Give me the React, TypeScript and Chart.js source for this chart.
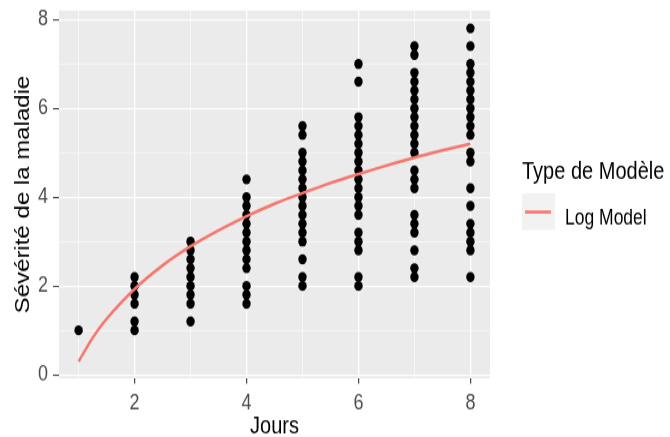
import React, { useEffect, useRef } from 'react';
import { Chart, registerables } from 'chart.js';

Chart.register(...registerables);

// ---- Data ----
const jours = [1, 2, 3, 4, 5, 6, 7, 8];
const severiteJour1 = [1.0];
const severiteJour2 = [2.2, 2.0, 1.8, 1.6, 1.2, 1.0];
const severiteJour3 = [3.0, 2.8, 2.6, 2.4, 2.2, 2.0, 1.8, 1.6, 1.2];
const severiteJour4 = [4.4, 4.0, 3.8, 3.6, 3.4, 3.2, 3.0, 2.8, 2.6, 2.4, 2.0, 1.8, 1.6];
const severiteJour5 = [5.6, 5.4, 5.0, 4.8, 4.6, 4.4, 4.2, 4.0, 3.8, 3.6, 3.4, 3.2, 3.0, 2.6, 2.2, 2.0];
const severiteJour6 = [7.0, 6.6, 5.8, 5.6, 5.4, 5.2, 5.0, 4.8, 4.6, 4.4, 4.2, 4.0, 3.8, 3.6, 3.2, 3.0, 2.8, 2.2, 2.0];
const severiteJour7 = [7.4, 7.2, 6.8, 6.6, 6.4, 6.2, 6.0, 5.8, 5.6, 5.4, 5.2, 5.0, 4.6, 4.4, 4.2, 3.6, 3.4, 3.2, 2.8, 2.4, 2.2];
const severiteJour8 = [7.8, 7.4, 7.0, 6.8, 6.6, 6.4, 6.2, 6.0, 5.8, 5.6, 5.4, 5.0, 4.8, 4.2, 3.8, 3.4, 3.2, 3.0, 2.8, 2.2];
const severiteParJour = [
  severiteJour1, severiteJour2, severiteJour3, severiteJour4,
  severiteJour5, severiteJour6, severiteJour7, severiteJour8,
];

// Log model curve
const modeleJours = [1, 1.25, 1.5, 2, 2.5, 3, 3.5, 4, 4.5, 5, 5.5, 6, 6.5, 7, 7.5, 8];
const modeleSeverite = [0.3, 0.83, 1.26, 1.93, 2.46, 2.89, 3.25, 3.57, 3.85, 4.09, 4.32, 4.52, 4.71, 4.89, 5.05, 5.2];

const xTicks = [1, 2, 3, 4, 5, 6, 7, 8];
const xTickLabels = [2, 4, 6, 8];
const yTicks = [0, 1, 2, 3, 4, 5, 6, 7, 8];
const yTickLabels = [0, 2, 4, 6, 8];

const xTitle = 'Jours';
const yTitle = 'Sévérité de la maladie';
const legendTitle = 'Type de Modèle';
const modelName = 'Log Model';

const FONT = '"Liberation Sans", Arial, sans-serif';
const MODEL_COLOR = '#F8766D';
const STRETCH = 437 / 364;

const panelPlugin = {
  id: 'panelBg',
  beforeDraw(chart: any) {
    const { ctx, chartArea } = chart;
    ctx.save();
    ctx.fillStyle = '#EBEBEB';
    ctx.fillRect(chartArea.left, chartArea.top, chartArea.right - chartArea.left, chartArea.bottom - chartArea.top);
    ctx.restore();
  },
};

const legendPlugin = {
  id: 'ggLegend',
  afterDraw(chart: any) {
    const ctx = chart.ctx;
    ctx.save();
    ctx.textAlign = 'left';
    ctx.textBaseline = 'alphabetic';
    ctx.fillStyle = '#000000';
    ctx.font = `20px ${FONT}`;
    ctx.fillText(legendTitle, 522, 148.5);
    ctx.fillStyle = '#F2F2F2';
    ctx.fillRect(522, 161, 33, 30.6);
    ctx.strokeStyle = MODEL_COLOR;
    ctx.lineWidth = 2.6;
    ctx.beginPath();
    ctx.moveTo(525, 176.6);
    ctx.lineTo(551, 176.6);
    ctx.stroke();
    ctx.fillStyle = '#000000';
    ctx.font = `17.5px ${FONT}`;
    ctx.fillText(modelName, 565, 187.2);
    ctx.restore();
  },
};

export default function App() {
  const canvasRef = useRef<HTMLCanvasElement | null>(null);

  useEffect(() => {
    if (!canvasRef.current) return;
    const points: { x: number; y: number }[] = [];
    jours.forEach((j, i) => {
      severiteParJour[i].forEach((v) => points.push({ x: j, y: v }));
    });
    const curve = modeleJours.map((x, i) => ({ x, y: modeleSeverite[i] }));

    const gridColor = () => '#FFFFFF';
    const chart = new Chart(canvasRef.current, {
      type: 'scatter',
      data: {
        datasets: [
          {
            type: 'line',
            label: modelName,
            data: curve,
            borderColor: MODEL_COLOR,
            backgroundColor: MODEL_COLOR,
            borderWidth: 2.5,
            pointRadius: 0,
            tension: 0.3,
            fill: false,
            order: 0,
          } as any,
          {
            label: 'Observations',
            data: points,
            backgroundColor: '#000000',
            borderColor: '#000000',
            pointRadius: 4.2,
            borderWidth: 0,
            order: 1,
          },
        ],
      },
      options: {
        responsive: false,
        animation: false,
        layout: { padding: { top: 8.8, right: 180, left: 0, bottom: 0 } },
        plugins: {
          legend: { display: false },
          tooltip: { enabled: false },
        },
        scales: {
          x: {
            type: 'linear',
            min: 0.65,
            max: 8.35,
            afterBuildTicks: (scale: any) => {
              scale.ticks = xTicks.map((v) => ({ value: v }));
            },
            afterFit: (scale: any) => {
              scale.height = 48.9;
              scale.paddingLeft = 0;
              scale.paddingRight = 0;
            },
            border: { display: false },
            grid: {
              color: gridColor,
              lineWidth: (c: any) => (xTickLabels.includes(c.tick?.value) ? 1.3 : 0.6),
              tickColor: (c: any) => (xTickLabels.includes(c.tick?.value) ? '#333333' : 'rgba(0,0,0,0)'),
              tickLength: 4.5,
              tickWidth: 1.1,
            } as any,
            ticks: {
              autoSkip: false,
              maxRotation: 0,
              padding: 6,
              color: '#4D4D4D',
              font: { family: FONT, size: 18 },
              callback: (v: any) => (xTickLabels.includes(Number(v)) ? String(v) : ''),
            },
            title: {
              display: true,
              text: xTitle,
              color: '#000000',
              font: { family: FONT, size: 20 },
              padding: { top: 0, bottom: -3 },
            },
          },
          y: {
            type: 'linear',
            min: -0.08,
            max: 8.2,
            afterBuildTicks: (scale: any) => {
              scale.ticks = yTicks.map((v) => ({ value: v }));
            },
            afterFit: (scale: any) => {
              scale.width = 59;
              scale.paddingTop = 0;
              scale.paddingBottom = 0;
            },
            border: { display: false },
            grid: {
              color: gridColor,
              lineWidth: (c: any) => (yTickLabels.includes(c.tick?.value) ? 1.2 : 0.55),
              tickColor: (c: any) => (yTickLabels.includes(c.tick?.value) ? '#333333' : 'rgba(0,0,0,0)'),
              tickLength: 6,
              tickWidth: 1,
            } as any,
            ticks: {
              autoSkip: false,
              padding: 5,
              color: '#4D4D4D',
              font: { family: FONT, size: 18 },
              callback: (v: any) => (yTickLabels.includes(Number(v)) ? String(v) : ''),
            },
            title: {
              display: true,
              text: yTitle,
              color: '#000000',
              font: { family: FONT, size: 20 },
              padding: { top: 11, bottom: 0 },
            },
          },
        },
      },
      plugins: [panelPlugin, legendPlugin],
    });
    return () => chart.destroy();
  }, []);

  return (
    <div style={{ position: 'absolute', left: 0, top: 0, width: 670, height: 437, overflow: 'hidden', background: '#FFFFFF' }}>
      <canvas
        ref={canvasRef}
        width={670}
        height={364}
        style={{ display: 'block', width: 670, height: 364, transform: `scaleY(${STRETCH})`, transformOrigin: '0 0' }}
      />
    </div>
  );
}
